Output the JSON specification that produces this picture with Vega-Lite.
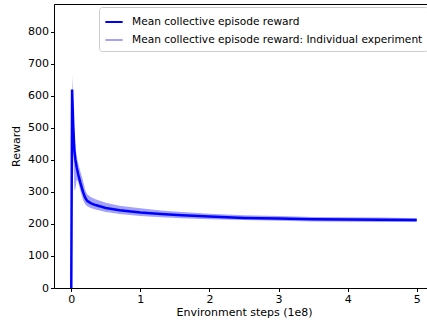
{
  "$schema": "https://vega.github.io/schema/vega-lite/v6.json",
  "autosize": "none",
  "width": 380,
  "height": 284,
  "padding": {"left": 54, "top": 4, "right": 0, "bottom": 36},
  "background": "white",
  "config": {
    "font": "DejaVu Sans",
    "view": {"stroke": "black", "strokeWidth": 1},
    "axis": {
      "grid": false,
      "domainColor": "black",
      "tickColor": "black",
      "labelColor": "black",
      "titleColor": "black",
      "labelFont": "DejaVu Sans",
      "titleFont": "DejaVu Sans",
      "labelFontSize": 11,
      "titleFontSize": 11,
      "titleFontWeight": "normal",
      "tickSize": 3.5,
      "labelOverlap": false
    }
  },
  "data": {
    "values": [
      {"x": 0, "mean": 0, "lo": 0, "hi": 0},
      {"x": 0.012, "mean": 620, "lo": 560, "hi": 665},
      {"x": 0.03, "mean": 500, "lo": 410, "hi": 570},
      {"x": 0.045, "mean": 430, "lo": 305, "hi": 480},
      {"x": 0.06, "mean": 400, "lo": 310, "hi": 440},
      {"x": 0.08, "mean": 375, "lo": 340, "hi": 410},
      {"x": 0.1, "mean": 355, "lo": 330, "hi": 390},
      {"x": 0.13, "mean": 330, "lo": 305, "hi": 365},
      {"x": 0.17, "mean": 300, "lo": 275, "hi": 335},
      {"x": 0.2, "mean": 283, "lo": 262, "hi": 308},
      {"x": 0.23, "mean": 272, "lo": 255, "hi": 293},
      {"x": 0.28, "mean": 265, "lo": 250, "hi": 284},
      {"x": 0.35, "mean": 259, "lo": 245, "hi": 277},
      {"x": 0.5, "mean": 250, "lo": 237, "hi": 266},
      {"x": 0.7, "mean": 243, "lo": 231, "hi": 257},
      {"x": 1.0, "mean": 236, "lo": 225, "hi": 249},
      {"x": 1.3, "mean": 231, "lo": 221, "hi": 242},
      {"x": 1.6, "mean": 227, "lo": 218, "hi": 237},
      {"x": 2.0, "mean": 223, "lo": 215, "hi": 232},
      {"x": 2.5, "mean": 219, "lo": 212, "hi": 227},
      {"x": 3.0, "mean": 217, "lo": 210, "hi": 225},
      {"x": 3.5, "mean": 215, "lo": 208, "hi": 222},
      {"x": 4.0, "mean": 214, "lo": 207, "hi": 221},
      {"x": 4.5, "mean": 213, "lo": 206, "hi": 220},
      {"x": 5.0, "mean": 212, "lo": 206, "hi": 218}
    ]
  },
  "encoding": {
    "x": {
      "field": "x",
      "type": "quantitative",
      "scale": {"domain": [-0.25, 5.25], "nice": false, "zero": false},
      "axis": {"values": [0, 1, 2, 3, 4, 5], "title": "Environment steps (1e8)", "titlePadding": 2}
    }
  },
  "layer": [
    {
      "mark": {"type": "area", "opacity": 1},
      "encoding": {
        "y": {
          "field": "lo",
          "type": "quantitative",
          "scale": {"domain": [0, 887], "nice": false},
          "axis": {"values": [0, 100, 200, 300, 400, 500, 600, 700, 800], "title": "Reward", "titlePadding": 6}
        },
        "y2": {"field": "hi"},
        "color": {
          "datum": "Mean collective episode reward: Individual experiment",
          "type": "nominal",
          "scale": {
            "domain": ["Mean collective episode reward", "Mean collective episode reward: Individual experiment"],
            "range": ["#0000ff", "#a3a3fb"]
          },
          "legend": {
            "title": null,
            "orient": "none",
            "legendX": 45,
            "legendY": 3,
            "symbolType": "stroke",
            "symbolSize": 300,
            "symbolStrokeWidth": 2,
            "labelFontSize": 10.6,
            "labelFont": "DejaVu Sans",
            "labelColor": "black",
            "labelLimit": 600,
            "strokeColor": "#cccccc",
            "fillColor": "white",
            "padding": 5,
            "cornerRadius": 3,
            "rowPadding": 2,
            "labelOffset": 8
          }
        }
      }
    },
    {
      "mark": {"type": "line", "strokeWidth": 2.5},
      "encoding": {
        "y": {
          "field": "mean",
          "type": "quantitative",
          "scale": {"domain": [0, 887], "nice": false},
          "axis": {"values": [0, 100, 200, 300, 400, 500, 600, 700, 800], "title": "Reward", "titlePadding": 6}
        },
        "color": {"datum": "Mean collective episode reward", "type": "nominal"}
      }
    }
  ]
}
